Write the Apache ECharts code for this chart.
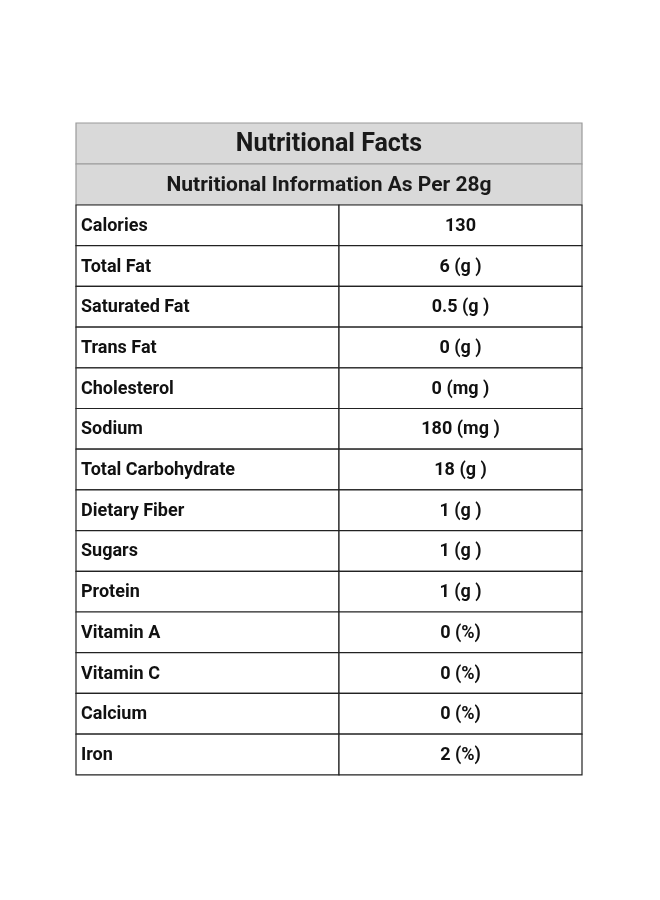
<!DOCTYPE html>
<html>
<head>
<meta charset="utf-8">
<script src="https://cdn.jsdelivr.net/npm/echarts@6/dist/echarts.min.js"></script>
<style>html,body{margin:0;background:#fff}#chart{width:660px;height:900px}</style>
</head>
<body>
<div id="chart"></div>
<script>
const title = 'Nutritional Facts';
const subtitle = 'Nutritional Information As Per 28g';
const nutrients = ['Calories', 'Total Fat', 'Saturated Fat', 'Trans Fat', 'Cholesterol', 'Sodium',
    'Total Carbohydrate', 'Dietary Fiber', 'Sugars', 'Protein', 'Vitamin A', 'Vitamin C', 'Calcium', 'Iron'];
const amounts = ['130', '6 (g )', '0.5 (g )', '0 (g )', '0 (mg )', '180 (mg )',
    '18 (g )', '1 (g )', '1 (g )', '1 (g )', '0 (%)', '0 (%)', '0 (%)', '2 (%)'];

const chart = echarts.init(document.getElementById('chart'));

// table geometry
const tLeft = 76, tRight = 582, tMid = 339;
const tTop = 123, headH = 41, rowH = 40.7;
const bodyTop = tTop + headH * 2;

const elements = [];
// header cells
[title, subtitle].forEach((t, i) => {
    elements.push({
        type: 'rect',
        shape: {x: tLeft, y: tTop + i * headH, width: tRight - tLeft, height: headH},
        style: {fill: '#d9d9d9', stroke: '#9a9a9a', lineWidth: 1.2}
    });
    elements.push({
        type: 'text',
        x: (tLeft + tRight) / 2, y: tTop + i * headH + headH / 2 + 1,
        style: {
            text: t, fill: '#1a1a1a', align: 'center', verticalAlign: 'middle',
            font: (i === 0 ? 'bold 25px' : 'bold 21px') + ' Roboto'
        }
    });
});
// body rows
nutrients.forEach((n, i) => {
    const y = bodyTop + i * rowH;
    elements.push({
        type: 'rect',
        shape: {x: tLeft, y: y, width: tMid - tLeft, height: rowH},
        style: {fill: '#fff', stroke: '#222', lineWidth: 1.2}
    });
    elements.push({
        type: 'rect',
        shape: {x: tMid, y: y, width: tRight - tMid, height: rowH},
        style: {fill: '#fff', stroke: '#222', lineWidth: 1.2}
    });
    elements.push({
        type: 'text', x: tLeft + 5, y: y + rowH / 2 + 1,
        style: {text: n, fill: '#111', verticalAlign: 'middle', font: 'bold 18px Roboto'}
    });
    elements.push({
        type: 'text', x: (tMid + tRight) / 2, y: y + rowH / 2 + 1,
        style: {text: amounts[i], fill: '#111', align: 'center', verticalAlign: 'middle', font: 'bold 18px Roboto'}
    });
});

chart.setOption({
    backgroundColor: '#fff',
    animation: false,
    graphic: {elements: elements}
});
</script>
</body>
</html>
